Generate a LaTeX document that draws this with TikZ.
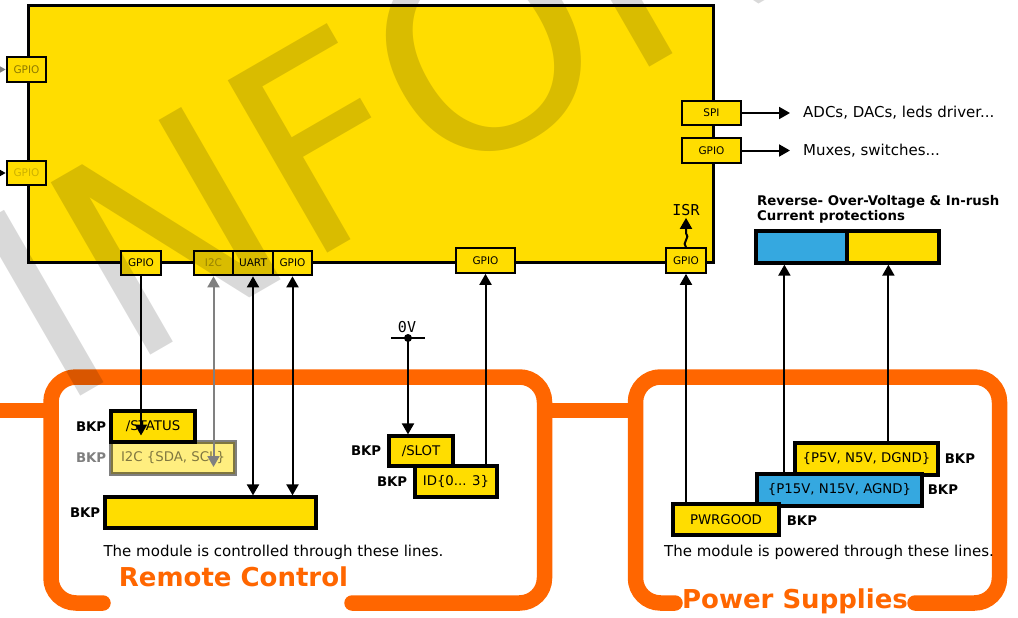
\documentclass[tikz,border=0pt]{standalone}
\usepackage{fontspec}
\setmainfont{DejaVu Sans}
\setmonofont{DejaVu Sans Mono}
\usetikzlibrary{arrows.meta,calc}
\definecolor{chip}{HTML}{FFDD00}
\definecolor{rail}{HTML}{35A8E0}
\definecolor{frame}{HTML}{FF6600}

\begin{document}
\begin{tikzpicture}[x=1pt,y=-1pt,
        port/.style={draw,line width=2.2pt,fill=chip,inner sep=0pt,minimum width=39.5pt,minimum height=24.5pt,font=\fontsize{10.5}{12}\selectfont},
        sig/.style={draw,line width=3.2pt,fill=chip,inner sep=0pt,minimum height=31pt,font=\fontsize{13.3}{15}\selectfont},
        bkp/.style={inner sep=0pt,font=\fontsize{13.3}{15}\selectfont\bfseries},
        note/.style={inner sep=0pt,font=\fontsize{15}{18}\selectfont},
        mono/.style={inner sep=0pt,font=\ttfamily\fontsize{15}{18}\selectfont},
        heading/.style={inner sep=0pt,text=frame,font=\fontsize{26}{30}\selectfont\bfseries},
        arr/.style={line width=2pt,-{Triangle[length=11pt,width=12pt]}},
        darr/.style={line width=2pt,{Triangle[length=11pt,width=12pt]}-{Triangle[length=11pt,width=12pt]}},
        ring/.style={draw=frame,line width=15.5pt,line cap=round,rounded corners=25pt}]
        \useasboundingbox (0,0) rectangle (1018,618);

        \draw[frame,line width=15pt] (0,410.5) -- (51,410.5);
        \draw[frame,line width=15pt] (544.5,410.5) -- (635.5,410.5);
        \draw[ring] (103,603) -- (51,603) -- (51,377) -- (544.5,377) -- (544.5,603) -- (352,603);
        \draw[ring] (675,603) -- (635.5,603) -- (635.5,377) -- (999.5,377) -- (999.5,603) -- (915,603);
        \node[heading] (rc) at (233.5,577) {Remote Control};
        \node[heading] (ps) at (795,601) {Power Supplies};

        \node[draw,line width=3pt,fill=chip,inner sep=0pt,minimum width=684.5pt,minimum height=256pt] (mcu) at (370.75,134) {};
        \node[port,text opacity=0.45] (gpiol1) at (26.5,69.5) {GPIO};
        \node[port,text opacity=0.2] (gpiol2) at (26.5,173) {GPIO};
        \node[port] (gpios) at (141,263) {GPIO};
        \node[port,text opacity=0.3] (i2cp) at (213.5,263) {I2C};
        \node[port] (uartp) at (253,263) {UART};
        \node[port] (gpiou) at (292.5,263) {GPIO};
        \node[port,minimum width=59pt] (gpiom) at (485.5,260.5) {GPIO};
        \node[port] (gpioi) at (686,260.5) {GPIO};
        \node[port,minimum width=59pt] (spip) at (711.5,113) {SPI};
        \node[port,minimum width=59pt] (gpior) at (711.5,150.5) {GPIO};
        \coordinate (inl1) at (-30,69.5);
        \coordinate (inl2) at (-30,173);
        \draw[arr,black!50] (inl1) -- (gpiol1.west);
        \draw[arr] (inl2) -- (gpiol2.west);

        \node[note,anchor=west] (adc) at (803,113) {ADCs, DACs, leds driver...};
        \node[note,anchor=west] (mux) at (803,150.5) {Muxes, switches...};
        \draw[arr] (spip.east) -- ([xshift=-13pt]adc.west);
        \draw[arr] (gpior.east) -- ([xshift=-13pt]mux.west);
        \node[mono] (isr) at (686,210) {ISR};
        \draw[arr] (gpioi.north) .. controls +(-5,-4) and +(5,4) .. ++(0,-14) -- ([yshift=-2pt]isr.south);

        \node[bkp,align=left,anchor=south west,font=\fontsize{13.3}{14.5}\selectfont\bfseries] (prot) at (757,223) {Reverse- Over-Voltage \& In-rush\\Current protections};
        \node[draw,line width=3.3pt,fill=rail,inner sep=0pt,minimum width=91pt,minimum height=32pt] (protA) at (801.5,247) {};
        \node[draw,line width=3.3pt,fill=chip,inner sep=0pt,minimum width=92pt,minimum height=32pt] (protB) at (893,247) {};

        \node[sig,opacity=0.5,minimum width=124pt,minimum height=32pt] (i2cb) at (173,458) {I2C \{SDA, SCL\}};
        \node[bkp,opacity=0.5,anchor=east] (bkpi2c) at ([xshift=-3pt]i2cb.west) {BKP};
        \node[sig,minimum width=84pt] (status) at (153,426.5) {/STATUS};
        \node[bkp,anchor=east] (bkpst) at ([xshift=-3pt]status.west) {BKP};
        \node[sig,minimum width=211pt] (bus) at (210.5,512.5) {};
        \node[bkp,anchor=east] (bkpbus) at ([xshift=-3pt]bus.west) {BKP};
        \node[note] (ctrl) at (273.5,552) {The module is controlled through these lines.};

        \coordinate (gnd) at (408,338);
        \draw[line width=2.5pt] ([xshift=-17pt]gnd) -- ([xshift=17pt]gnd);
        \fill (gnd) circle (4pt);
        \node[mono,anchor=south] (zerov) at (407,332.5) {0V};
        \node[sig,minimum width=64pt,minimum height=30pt] (slot) at (421,451) {/SLOT};
        \node[bkp,anchor=east] (bkpslot) at ([xshift=-6pt]slot.west) {BKP};
        \node[sig,minimum width=82pt] (id) at (456,481.5) {ID\{0... 3\}};
        \node[bkp,anchor=east] (bkpid) at ([xshift=-6pt]id.west) {BKP};

        \node[sig,minimum width=143pt,minimum height=32pt] (p5) at (866.5,459) {\{P5V, N5V, DGND\}};
        \node[bkp,anchor=west] (bkpp5) at ([xshift=5pt]p5.east) {BKP};
        \node[sig,fill=rail,minimum width=165pt,minimum height=32pt] (p15) at (839.5,490) {\{P15V, N15V, AGND\}};
        \node[bkp,anchor=west] (bkpp15) at ([xshift=4pt]p15.east) {BKP};
        \node[sig,minimum width=106pt] (pwr) at (726,519.5) {PWRGOOD};
        \node[bkp,anchor=west] (bkppwr) at ([xshift=6pt,yshift=-1.5pt]pwr.east) {BKP};
        \node[note] (pwrd) at (829,552) {The module is powered through these lines.};

        \draw[arr] (gpios.south) -- ($(gpios.south |- status.center)+(0,9)$);
        \draw[darr,black!50] (i2cp.south) -- ($(i2cp.south |- i2cb.center)+(0,9)$);
        \draw[darr] (uartp.south) -- (uartp.south |- bus.north);
        \draw[darr] (gpiou.south) -- (gpiou.south |- bus.north);
        \draw[arr] (gnd) -- (gnd |- slot.north);
        \draw[arr] (gpiom.south |- id.north) -- (gpiom.south);
        \draw[arr] (gpioi.south |- pwr.north) -- (gpioi.south);
        \coordinate (p15top) at ($(p15.north west)+(29,0)$);
        \coordinate (p5top) at ($(p5.north west)+(95,0)$);
        \draw[arr] (p15top) -- (p15top |- protA.south);
        \draw[arr] (p5top) -- (p5top |- protB.south);

        \node[rotate=30,anchor=base west,inner sep=0pt,text=black,text opacity=0.15,font=\fontsize{273}{280}\selectfont] (mark) at (57.8,409.2) {INFORMATION};
    \end{tikzpicture}
\end{document}
